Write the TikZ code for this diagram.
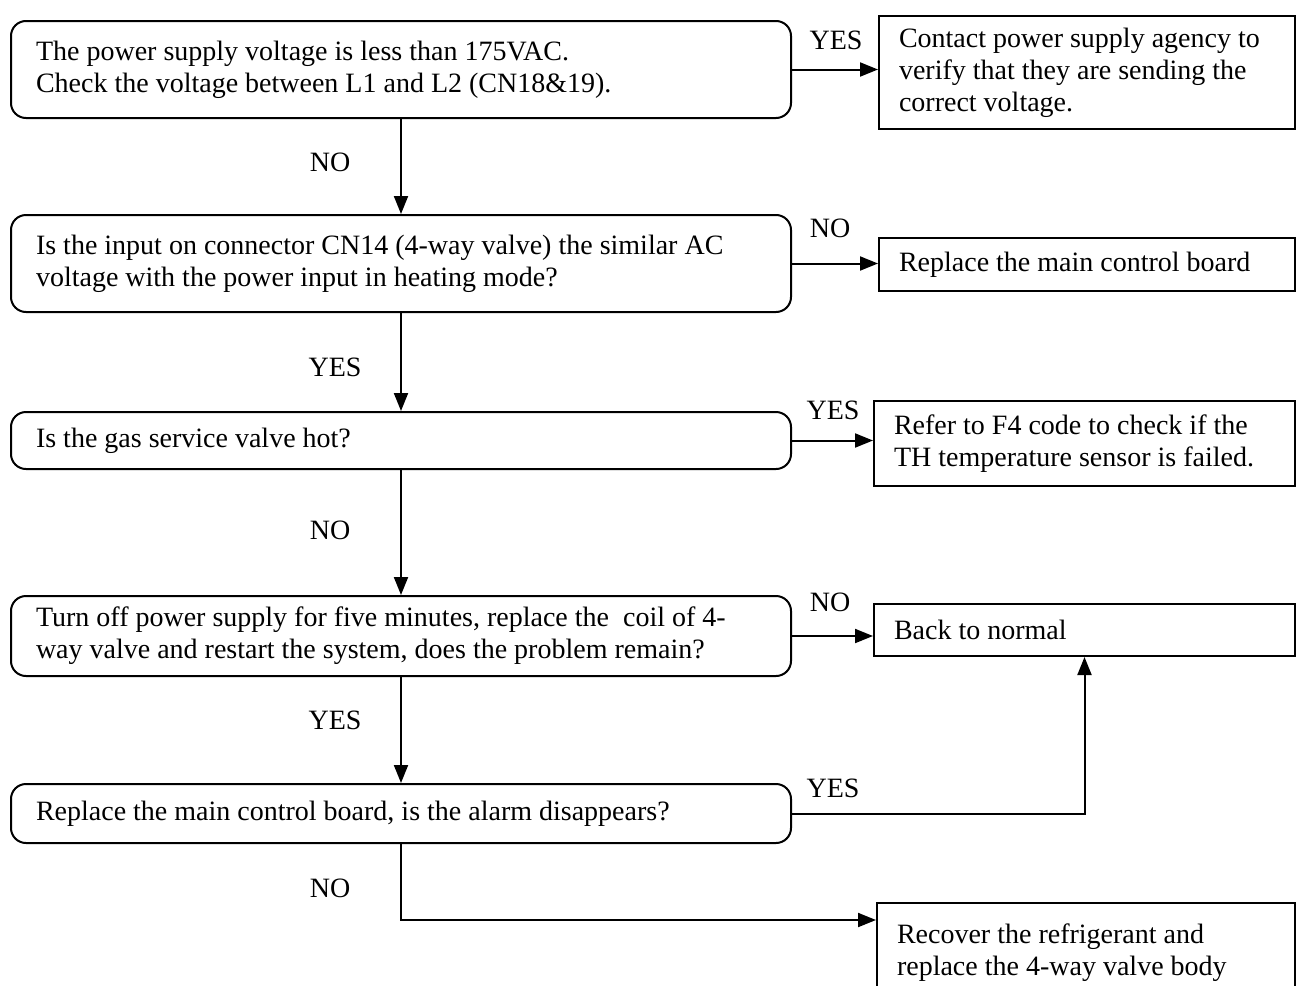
\documentclass[tikz,border=0pt]{standalone}
\usepackage{fontspec}
\setmainfont{Liberation Serif}
\usetikzlibrary{arrows.meta}
\begin{document}
\begin{tikzpicture}[x=1pt,y=-1pt,line width=2pt,
  every node/.style={font=\fontsize{28}{32}\selectfont},
  qbox/.style={draw,rounded corners=15pt,anchor=north west,align=flush left,text width=730pt,inner xsep=25pt},
  abox/.style={draw,anchor=north west,align=flush left,inner xsep=20pt,text width=#1},
  flow/.style={-{Triangle[length=18pt,width=14pt]}}]
\useasboundingbox (0,0) rectangle (1300,985);

\node[qbox,minimum height=97pt] (q1) at (10,20) {The power supply voltage is less than 175VAC.\\Check the voltage between L1 and L2 (CN18\&19).};
\node[qbox,minimum height=97pt] (q2) at (10,214) {Is the input on connector CN14 (4-way valve) the similar AC\\voltage with the power input in heating mode?};
\node[qbox,minimum height=57pt] (q3) at (10,411) {Is the gas service valve hot?};
\node[qbox,minimum height=80pt] (q4) at (10,595) {Turn off power supply for five minutes, replace the~ coil of 4-\\way valve and restart the system, does the problem remain?};
\node[qbox,minimum height=59pt] (q5) at (10,783) {Replace the main control board, is the alarm disappears?};

\node[abox=376pt,minimum height=113pt] (a1) at (878,15) {Contact power supply agency to\\verify that they are sending the\\correct voltage.};
\node[abox=376pt,minimum height=53pt] (a2) at (878,237) {Replace the main control board};
\node[abox=381pt,minimum height=85pt] (a3) at (873,400) {Refer to F4 code to check if the\\TH temperature sensor is failed.};
\node[abox=381pt,minimum height=52pt] (a4) at (873,603) {Back to normal};
\node[abox=378pt,minimum height=100pt] (a5) at (876,902) {Recover the refrigerant and\\replace the 4-way valve body};

\draw[flow] (q1.south) -- (q2.north);
\draw[flow] (q2.south) -- (q3.north);
\draw[flow] (q3.south) -- (q4.north);
\draw[flow] (q4.south) -- (q5.north);
\draw[flow] (q1.east) -- (q1.east -| a1.west);
\draw[flow] (q2.east) -- (q2.east -| a2.west);
\draw[flow] (q3.east) -- (q3.east -| a3.west);
\draw[flow] (q4.east) -- (q4.east -| a4.west);
\draw[flow] (q5.east) -| (a4.south);
\draw[flow] (q5.south) |- ([yshift=-18pt]a5.north west);

\node (y1) at (836,40) {YES};
\node (n1) at (330,162) {NO};
\node (n2) at (830,228) {NO};
\node (y2) at (335,367) {YES};
\node (y3) at (833,410) {YES};
\node (n3) at (330,530) {NO};
\node (n4) at (830,602) {NO};
\node (y4) at (335,720) {YES};
\node (y5) at (833,788) {YES};
\node (n5) at (330,888) {NO};
\end{tikzpicture}
\end{document}
